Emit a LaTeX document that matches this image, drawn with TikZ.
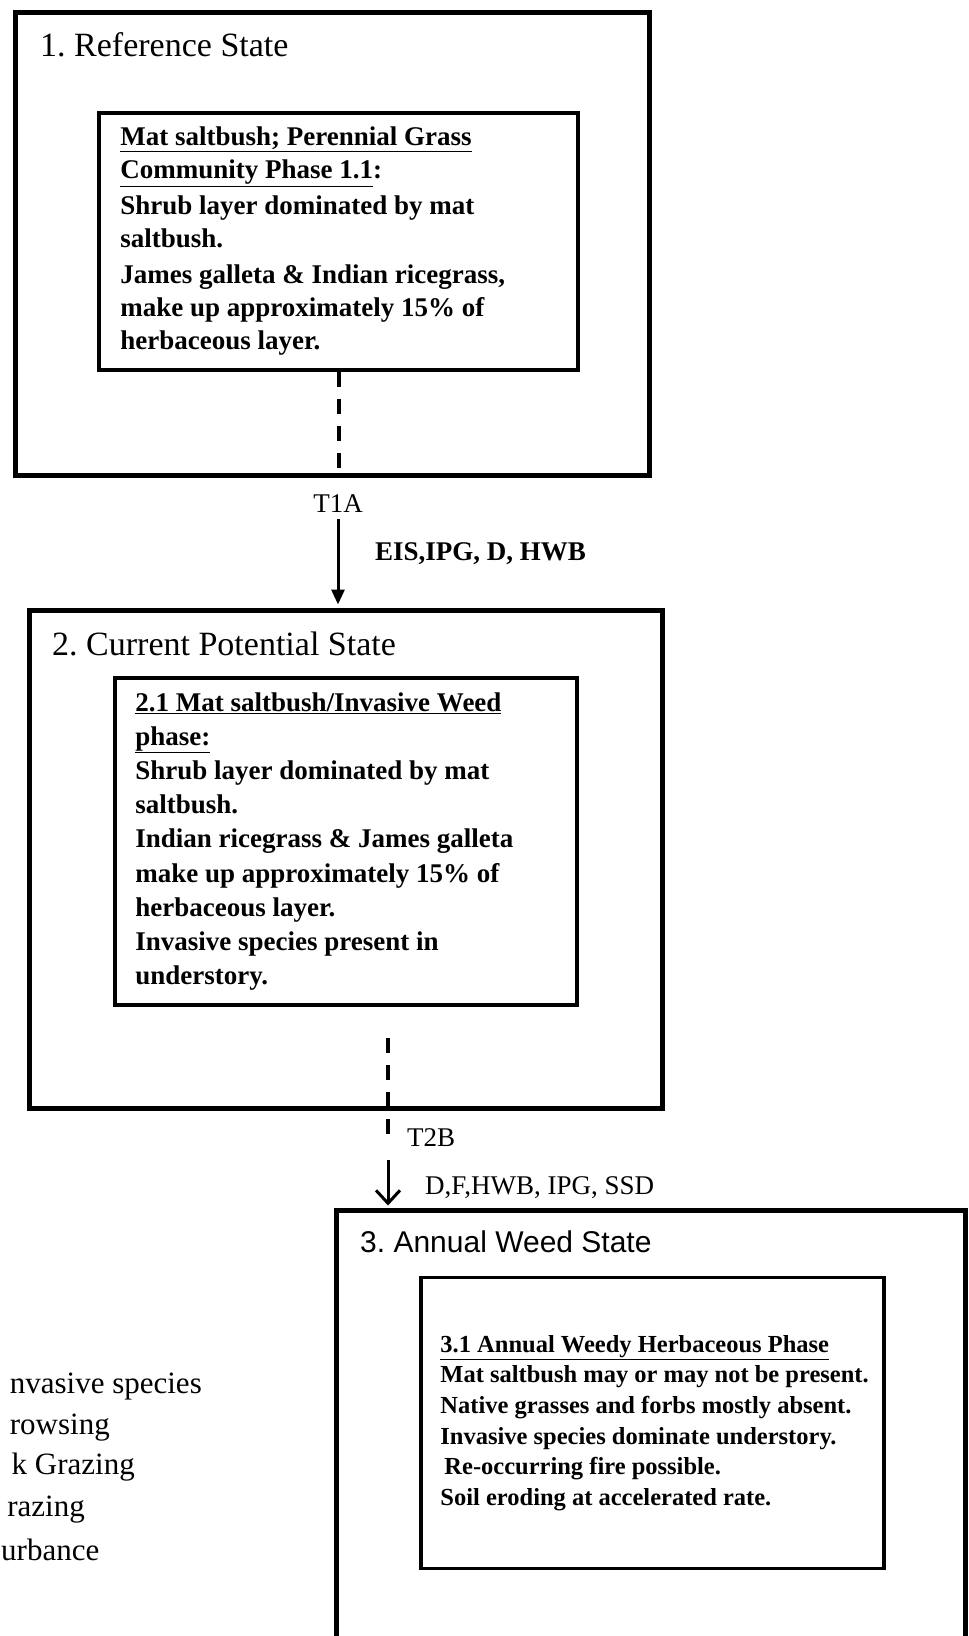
\documentclass[tikz,border=0pt]{standalone}
\usepackage{fontspec}
\setmainfont{Liberation Serif}
\newfontfamily\statesans{Liberation Sans}
\usetikzlibrary{arrows.meta}
\frenchspacing

\begin{document}
\begin{tikzpicture}[x=1pt,y=-1pt,line cap=rect,
  statebox/.style={draw=col_0_0_0, line width=5pt, inner sep=0pt},
  phasebox/.style={draw=col_0_0_0, line width=3.5pt, inner sep=0pt},
  phasetext/.style={inner sep=0pt, anchor=west, align=left, col_0_0_0},
  statetitle/.style={inner sep=0pt, anchor=west, col_0_0_0, font=\fontsize{34pt}{34pt}\selectfont},
  translabel/.style={inner sep=0pt, anchor=west, col_0_0_0, font=\fontsize{27pt}{27pt}\selectfont},
  legendline/.style={inner sep=0pt, anchor=east, col_0_0_0, font=\fontsize{31pt}{31pt}\selectfont},
  transdash/.style={draw=col_0_0_0, line width=4pt, line cap=butt, dash pattern=on 15pt off 12pt},
  transarrow/.style={draw=col_0_0_0, line width=3pt, line cap=butt}]
\definecolor{col_0_0_0}{RGB}{0, 0, 0}
\definecolor{col_ff_ff_ff}{RGB}{255, 255, 255}
\useasboundingbox [fill=col_ff_ff_ff] (0,0) rectangle (969,1636);
% state 1
\node [statebox, minimum width=634pt, minimum height=463pt] (s1) at (332,244) {};
\node [statetitle] (s1title) at (40,45) {1. Reference State};
\node [phasebox, minimum width=479pt, minimum height=257pt] (p1) at (338.5,241.5) {};
\node [phasetext, font=\bfseries\fontsize{27pt}{33pt}\selectfont] (p1text) at ([xshift=23pt]p1.west) {\underline{Mat saltbush; Perennial Grass}\\
\underline{Community Phase 1.1}:\\[3pt]
Shrub layer dominated by mat\\
saltbush.\\[3pt]
James galleta \& Indian ricegrass,\\
make up approximately 15\% of\\
herbaceous layer.};
% state 2
\node [statebox, minimum width=633pt, minimum height=498pt] (s2) at (345.5,859) {};
\node [statetitle] (s2title) at (52,644) {2. Current Potential State};
\node [phasebox, minimum width=462pt, minimum height=327pt] (p2) at (346,841.5) {};
\node [phasetext, font=\bfseries\fontsize{27pt}{34.2pt}\selectfont] (p2text) at ([xshift=22pt]p2.west) {\underline{2.1 Mat saltbush/Invasive Weed}\\
\underline{phase:}\\
Shrub layer dominated by mat\\
saltbush.\\
Indian ricegrass \& James galleta\\
make up approximately 15\% of\\
herbaceous layer.\\
Invasive species present in\\
understory.};
% state 3
\node [statebox, minimum width=629pt, minimum height=430pt] (s3) at (650.5,1425) {};
\node [statetitle, font=\statesans\fontsize{30pt}{30pt}\selectfont] (s3title) at (360,1242) {3. Annual Weed State};
\node [phasebox, minimum width=463pt, minimum height=291pt] (p3) at (652.5,1423) {};
\node [phasetext, font=\bfseries\fontsize{24.5pt}{30.6pt}\selectfont] (p3text) at ([xshift=21pt]p3.west) {\underline{3.1 Annual Weedy Herbaceous Phase}\\
Mat saltbush may or may not be present.\\
Native grasses and forbs mostly absent.\\
Invasive species dominate understory.\\
\hspace{4pt}Re-occurring fire possible.\\
Soil eroding at accelerated rate.};
% transitions
\draw [transdash] (p1.south) -- (p1.south |- s1.south);
\node [translabel, anchor=center, inner sep=6pt] (t1a) at (338,504) {T1A};
\node [translabel, font=\bfseries\fontsize{27pt}{27pt}\selectfont] (t1acause) at (375,554) {EIS,IPG, D, HWB};
\draw [transarrow, -{Triangle[length=15pt,width=13pt]}, shorten >=3pt] (t1a.south) -- (t1a.south |- s2.north);
\coordinate (d2top) at (388,1038);
\coordinate (d2end) at (388,1145);
\coordinate (a2top) at (388,1160);
\draw [transdash] (d2top) -- (d2end);
\node [translabel] (t2b) at (407,1138) {T2B};
\node [translabel] (t2bcause) at (425,1188) {D,F,HWB, IPG, SSD};
\draw [transarrow, -{Straight Barb[length=13pt,width=24pt,line width=3pt]}, shorten >=2pt] (a2top) -- (a2top |- s3.north);
% legend
\node [legendline] (leg1) at (202,1387) {nvasive species};
\node [legendline] (leg2) at (110,1428) {rowsing};
\node [legendline] (leg3) at (135,1467) {k Grazing};
\node [legendline] (leg4) at (85,1510) {razing};
\node [legendline, anchor=west] (leg5) at (1,1550) {urbance};
\end{tikzpicture}
\end{document}
